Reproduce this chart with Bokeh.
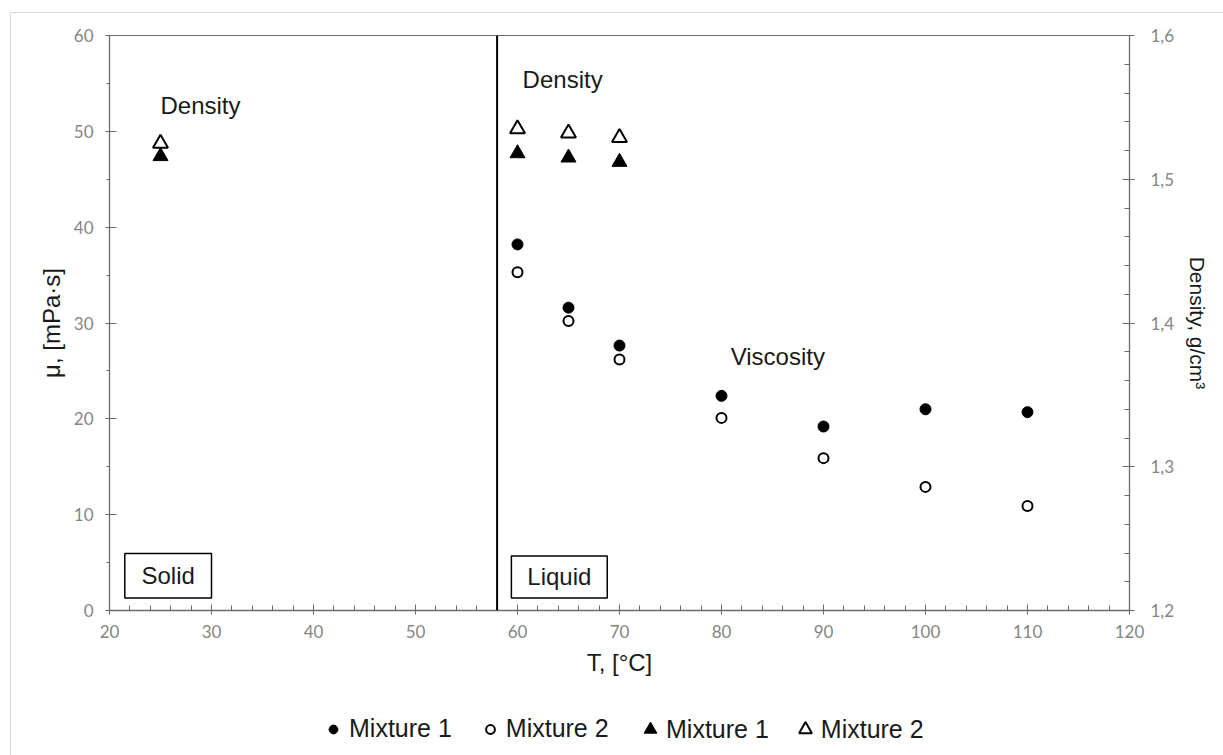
from bokeh.plotting import figure
from bokeh.layouts import column
from bokeh.models import (LinearAxis, Range1d, Legend, LegendItem, Span, BoxAnnotation, Label,
                          FixedTicker, CustomJSTickFormatter, ColumnDataSource)
from bokeh.embed import file_html
from bokeh.resources import INLINE

# ---- data ----
temp_visc = [60, 65, 70, 80, 90, 100, 110]
visc_m1 = [38.2, 31.6, 27.65, 22.4, 19.2, 21.0, 20.7]
visc_m2 = [35.3, 30.2, 26.2, 20.1, 15.9, 12.9, 10.9]
temp_dens = [25, 60, 65, 70]
dens_m1 = [1.516, 1.518, 1.515, 1.512]
dens_m2 = [1.525, 1.535, 1.532, 1.529]
melting_point = 58
x_ticks = [20, 30, 40, 50, 60, 70, 80, 90, 100, 110, 120]
y_ticks = [0, 10, 20, 30, 40, 50, 60]
dens_ticks = [1.2, 1.3, 1.4, 1.5, 1.6]
legend_labels = ["Mixture 1", "Mixture 2", "Mixture 1", "Mixture 2"]

FONT = "Liberation Sans"
TICK_FONT = "Lato"
TXT = "#1a1a1a"
AX = "#6a6a6a"
TICKC = "#858585"

src_v1 = ColumnDataSource(dict(x=temp_visc, y=visc_m1))
src_v2 = ColumnDataSource(dict(x=temp_visc, y=visc_m2))
src_d1 = ColumnDataSource(dict(x=temp_dens, y=dens_m1))
src_d2 = ColumnDataSource(dict(x=temp_dens, y=dens_m2))
sources = [src_v1, src_v2, src_d1, src_d2]

# marker styles (shared between plot and legend)
styles = [
    dict(marker="circle", size=11, fill_color="black", line_color="black", line_width=1),
    dict(marker="circle", size=10, fill_color="white", line_color="black", line_width=2),
    dict(marker="triangle", size=15, fill_color="black", line_color="black", line_width=1),
    dict(marker="triangle", size=15, fill_color="white", line_color="black", line_width=2),
]

p = figure(width=1212, height=677, x_range=Range1d(x_ticks[0], x_ticks[-1]),
           y_range=Range1d(y_ticks[0], y_ticks[-1]), output_backend="svg",
           toolbar_location=None, min_border_left=98, min_border_top=22,
           min_border_right=94, min_border_bottom=80)
p.extra_y_ranges = {"dens": Range1d(dens_ticks[0], dens_ticks[-1])}
p.grid.visible = False
p.outline_line_color = AX
p.outline_line_width = 1
p.background_fill_color = "white"
p.border_fill_color = "white"

# axes
p.xaxis.ticker = FixedTicker(ticks=x_ticks, minor_ticks=[t for t in range(x_ticks[0], x_ticks[-1], 2)])
p.yaxis.ticker = FixedTicker(ticks=y_ticks, minor_ticks=[t + 5 for t in y_ticks[:-1]])
right = LinearAxis(y_range_name="dens")
right.ticker = FixedTicker(ticks=dens_ticks,
                           minor_ticks=[round(dens_ticks[0] + 0.02 * i, 2) for i in range(21)])
right.formatter = CustomJSTickFormatter(code="return tick.toFixed(1).replace('.', ',');")
p.add_layout(right, "right")

p.xaxis.axis_label = "T, [°C]"
p.yaxis.axis_label = "μ, [mPa·s]"
right.axis_label = "Density, g/cm³"

for ax in [p.xaxis[0], p.yaxis[0], right]:
    ax.axis_line_color = AX
    ax.axis_line_width = 1.3
    ax.major_tick_line_color = AX
    ax.minor_tick_line_color = AX
    ax.major_label_text_font = TICK_FONT
    ax.major_label_text_font_size = "17px"
    ax.major_label_text_color = TICKC
    ax.axis_label_text_font = FONT
    ax.axis_label_text_font_size = "24px"
    ax.axis_label_text_font_style = "normal"
    ax.axis_label_text_color = TXT
right.axis_label_text_font_size = "21px"

p.xaxis.major_tick_in = 6
p.xaxis.major_tick_out = 4
p.xaxis.minor_tick_in = 5
p.xaxis.minor_tick_out = 0
p.xaxis.major_label_standoff = 10
p.xaxis.axis_label_standoff = 8

p.yaxis.major_tick_in = 7
p.yaxis.major_tick_out = 4
p.yaxis.minor_tick_in = 0
p.yaxis.minor_tick_out = 3
p.yaxis.major_label_standoff = 12
p.yaxis.axis_label_standoff = 6

right.major_tick_in = 7
right.major_tick_out = 5
right.minor_tick_in = 5
right.minor_tick_out = 0
right.major_label_standoff = 16
right.axis_label_standoff = 9

# melting line
p.add_layout(Span(location=melting_point, dimension="height", line_color="black", line_width=2))

# markers
p.scatter("x", "y", source=src_v1, **styles[0])
p.scatter("x", "y", source=src_v2, **styles[1])
p.scatter("x", "y", source=src_d1, y_range_name="dens", **styles[2])
p.scatter("x", "y", source=src_d2, y_range_name="dens", **styles[3])

# annotations
def lab(x, y, t, align="left"):
    p.add_layout(Label(x=x, y=y, text=t, text_font=FONT, text_font_size="24px", text_color=TXT,
                       text_align=align, text_baseline="middle"))

lab(25.0, 52.7, "Density")
lab(60.5, 55.4, "Density")
lab(80.9, 26.5, "Viscosity")

for (l, r, b, t, txt) in [(21.5, 30.0, 1.3, 5.95, "Solid"), (59.4, 68.8, 1.3, 5.7, "Liquid")]:
    p.add_layout(BoxAnnotation(left=l, right=r, bottom=b, top=t, fill_color=None,
                               line_color="black", line_width=1.5, line_alpha=1))
    lab((l + r) / 2, (b + t) / 2, txt, align="center")

# legend strip: separate figure sharing the same sources; its ranges keep the
# markers themselves out of view so that only the legend shows
p2 = figure(width=1212, height=65, x_range=Range1d(-2, -1), y_range=Range1d(-2, -1),
            output_backend="svg", toolbar_location=None, min_border=0,
            x_axis_location=None, y_axis_location=None)
p2.grid.visible = False
p2.outline_line_color = None
p2.border_fill_color = "white"
leg_r = [p2.scatter("x", "y", source=src, **s) for src, s in zip(sources, styles)]


def make_legend(idx, loc, glyph, standoff, spacing):
    lg = Legend(items=[LegendItem(label=legend_labels[i], renderers=[leg_r[i]]) for i in idx],
                orientation="horizontal", location=loc)
    lg.label_text_font = FONT
    lg.label_text_font_size = "25px"
    lg.label_text_color = TXT
    lg.glyph_width = glyph
    lg.glyph_height = glyph
    lg.label_standoff = standoff
    lg.spacing = spacing
    lg.padding = 0
    lg.margin = 0
    lg.border_line_color = None
    lg.background_fill_alpha = 0
    p2.add_layout(lg)


make_legend([0, 1], (213, 12), 22, 5, 27)
make_legend([2, 3], (525, 10), 32, 0, 20)

layout = column(p, p2, spacing=0)
layout.margin = (12, 0, 0, 10)
layout.styles = {"border-top": "1px solid #d9d9d9", "border-left": "1px solid #d9d9d9"}

open("out.html", "w").write(file_html(layout, INLINE))
